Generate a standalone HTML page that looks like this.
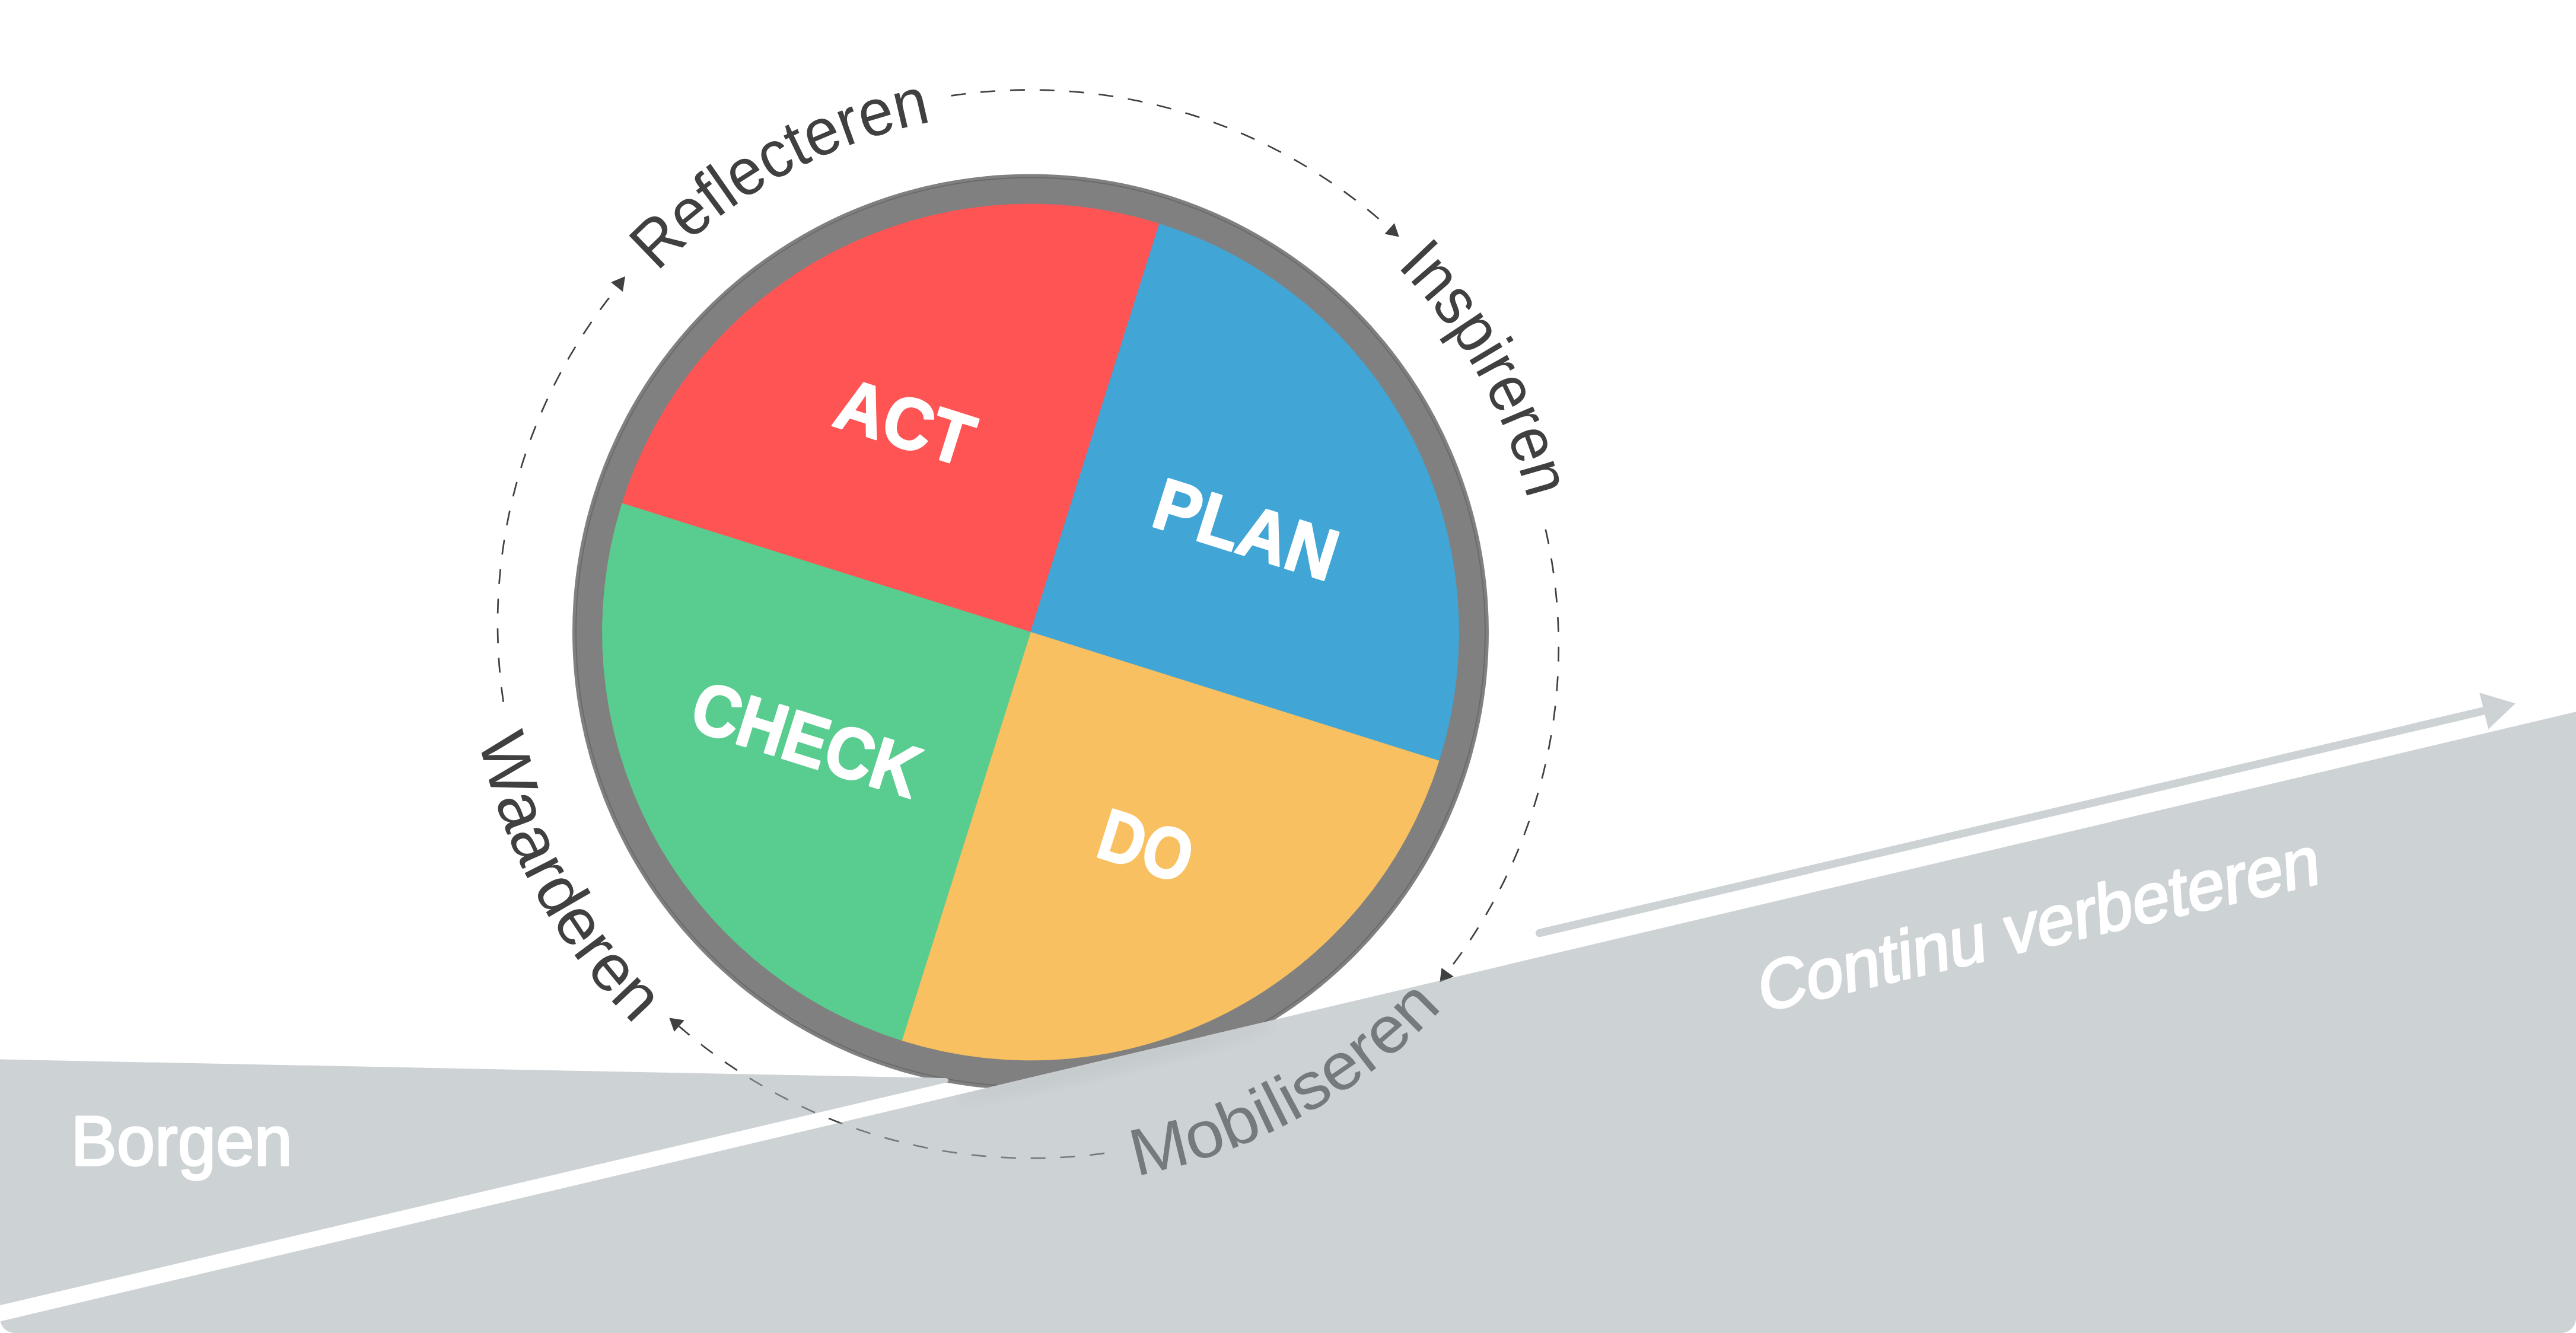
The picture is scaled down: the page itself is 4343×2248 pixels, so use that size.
<!DOCTYPE html><html><head><meta charset="utf-8"><style>html,body{margin:0;padding:0;background:#fff;overflow:hidden}svg{display:block}</style></head><body>
<svg width="4343" height="2248" viewBox="0 0 4343 2248">
<defs>
<clipPath id="pg"><rect x="0" y="-50" width="4343" height="2298" rx="25" ry="25"/></clipPath>
<mask id="cm" maskUnits="userSpaceOnUse" x="0" y="0" width="4343" height="2248"><rect width="4343" height="2248" fill="#fff"/><path d="M0,2228.4 L4343,1200.3 L4343,2248 L0,2248 Z" fill="#000"/><path d="M0,1786.6 L1592,1818.0 Q1599,1818.4 1599,1821.5 Q1599,1824.6 1594,1825.9 L0,2201.2 Z" fill="#000"/></mask>
</defs>
<rect width="4343" height="2248" fill="#fff"/>
<g clip-path="url(#pg)">
<path d="M1603.56,161.41 L1611.38,160.29 L1619.21,159.23 L1627.06,158.24 L1634.90,157.32 L1642.76,156.46 L1650.62,155.68 L1658.50,154.96 L1666.37,154.32 L1674.25,153.74 L1682.14,153.23 L1690.03,152.79 L1697.92,152.42 L1705.82,152.12 L1713.72,151.88 L1721.62,151.72 L1729.53,151.63 L1737.43,151.60 L1745.33,151.64 L1753.23,151.76 L1761.13,151.94 L1769.03,152.19 L1776.93,152.51 L1784.82,152.90 L1792.71,153.36 L1800.60,153.88 L1808.48,154.48 L1816.35,155.14 L1824.22,155.88 L1832.08,156.68 L1839.94,157.55 L1847.79,158.49 L1855.62,159.50 L1863.45,160.57 L1871.27,161.72 L1879.08,162.93 L1886.88,164.21 L1894.67,165.56 L1902.44,166.98 L1910.20,168.47 L1917.95,170.02 L1925.69,171.64 L1933.41,173.33 L1941.11,175.08 L1948.80,176.91 L1956.48,178.80 L1964.13,180.76 L1971.77,182.78 L1979.39,184.87 L1987.00,187.03 L1994.58,189.25 L2002.14,191.54 L2009.69,193.90 L2017.21,196.32 L2024.71,198.81 L2032.19,201.36 L2039.65,203.98 L2047.08,206.66 L2054.49,209.41 L2061.88,212.22 L2069.24,215.10 L2076.57,218.04 L2083.88,221.05 L2091.16,224.12 L2098.42,227.25 L2105.64,230.45 L2112.84,233.71 L2120.01,237.03 L2127.16,240.42 L2134.27,243.86 L2141.35,247.37 L2148.40,250.94 L2155.42,254.58 L2162.40,258.27 L2169.36,262.02 L2176.28,265.84 L2183.17,269.71 L2190.02,273.65 L2196.84,277.65 L2203.62,281.70 L2210.37,285.81 L2217.08,289.99 L2223.76,294.22 L2230.39,298.51 L2236.99,302.86 L2243.55,307.26 L2250.08,311.72 L2256.56,316.24 L2263.00,320.82 L2269.41,325.45 L2275.77,330.14 L2282.09,334.88 L2288.37,339.68 L2294.61,344.53 L2300.80,349.44 L2306.96,354.40 L2313.06,359.41 L2319.13,364.48 L2325.15,369.60 L2331.12,374.78 L2337.05,380.00 L2342.93,385.28" fill="none" stroke="#404040" stroke-width="2.7" stroke-dasharray="25 24.9"/>
<path d="M2605.74,892.69 L2607.44,900.41 L2609.08,908.13 L2610.65,915.88 L2612.15,923.63 L2613.58,931.40 L2614.95,939.18 L2616.24,946.98 L2617.47,954.78 L2618.63,962.59 L2619.72,970.42 L2620.74,978.25 L2621.69,986.09 L2622.57,993.94 L2623.38,1001.80 L2624.13,1009.67 L2624.80,1017.54 L2625.41,1025.41 L2625.94,1033.30 L2626.41,1041.18 L2626.81,1049.07 L2627.13,1056.96 L2627.39,1064.86 L2627.58,1072.76 L2627.70,1080.66 L2627.75,1088.56 L2627.73,1096.46 L2627.64,1104.36 L2627.48,1112.25 L2627.25,1120.15 L2626.95,1128.04 L2626.58,1135.94 L2626.15,1143.82 L2625.64,1151.71 L2625.06,1159.59 L2624.42,1167.46 L2623.70,1175.33 L2622.92,1183.19 L2622.06,1191.04 L2621.14,1198.89 L2620.15,1206.72 L2619.09,1214.55 L2617.96,1222.37 L2616.76,1230.18 L2615.49,1237.98 L2614.16,1245.76 L2612.75,1253.54 L2611.28,1261.30 L2609.74,1269.05 L2608.13,1276.78 L2606.45,1284.50 L2604.71,1292.20 L2602.90,1299.89 L2601.02,1307.57 L2599.07,1315.22 L2597.05,1322.86 L2594.97,1330.48 L2592.82,1338.08 L2590.60,1345.66 L2588.32,1353.23 L2585.97,1360.77 L2583.55,1368.29 L2581.07,1375.79 L2578.52,1383.27 L2575.91,1390.72 L2573.23,1398.15 L2570.49,1405.56 L2567.68,1412.94 L2564.80,1420.30 L2561.86,1427.64 L2558.86,1434.94 L2555.79,1442.22 L2552.66,1449.47 L2549.46,1456.70 L2546.20,1463.89 L2542.88,1471.06 L2539.49,1478.20 L2536.05,1485.31 L2532.53,1492.38 L2528.96,1499.43 L2525.33,1506.44 L2521.63,1513.42 L2517.87,1520.37 L2514.05,1527.29 L2510.17,1534.17 L2506.23,1541.02 L2502.23,1547.83 L2498.17,1554.61 L2494.05,1561.35 L2489.87,1568.05 L2485.64,1574.72 L2481.34,1581.35 L2476.99,1587.94 L2472.57,1594.49 L2468.10,1601.00 L2463.58,1607.48 L2458.99,1613.91 L2454.35,1620.30 L2449.65,1626.66 L2444.90,1632.97 L2440.09,1639.24" fill="none" stroke="#404040" stroke-width="2.7" stroke-dasharray="25 24.9"/>
<path d="M1862.02,1944.83 L1854.14,1945.87 L1846.24,1946.85 L1838.34,1947.75 L1830.43,1948.59 L1822.51,1949.36 L1814.59,1950.05 L1806.66,1950.68 L1798.72,1951.24 L1790.78,1951.73 L1782.84,1952.15 L1774.89,1952.50 L1766.94,1952.77 L1758.99,1952.98 L1751.04,1953.12 L1743.08,1953.19 L1735.13,1953.19 L1727.17,1953.12 L1719.22,1952.98 L1711.27,1952.77 L1703.32,1952.49 L1695.37,1952.14 L1687.43,1951.72 L1679.49,1951.23 L1671.56,1950.67 L1663.63,1950.04 L1655.70,1949.34 L1647.78,1948.57 L1639.87,1947.73 L1631.97,1946.83 L1624.08,1945.85 L1616.19,1944.80 L1608.32,1943.69 L1600.45,1942.50 L1592.60,1941.25 L1584.75,1939.92 L1576.92,1938.53 L1569.10,1937.07 L1561.29,1935.54 L1553.50,1933.94 L1545.72,1932.28 L1537.96,1930.54 L1530.21,1928.74 L1522.48,1926.87 L1514.77,1924.93 L1507.07,1922.92 L1499.39,1920.85 L1491.73,1918.71 L1484.09,1916.50 L1476.47,1914.22 L1468.86,1911.88 L1461.28,1909.47 L1453.72,1906.99 L1446.19,1904.45 L1438.67,1901.84 L1431.18,1899.17 L1423.71,1896.43 L1416.27,1893.62 L1408.85,1890.75 L1401.46,1887.82 L1394.09,1884.81 L1386.75,1881.75 L1379.44,1878.62 L1372.15,1875.42 L1364.90,1872.17 L1357.67,1868.85 L1350.47,1865.46 L1343.30,1862.01 L1336.16,1858.50 L1329.06,1854.93 L1321.98,1851.29 L1314.94,1847.59 L1307.93,1843.83 L1300.95,1840.01 L1294.01,1836.13 L1287.10,1832.18 L1280.23,1828.18 L1273.39,1824.12 L1266.59,1819.99 L1259.82,1815.81 L1253.09,1811.57 L1246.40,1807.26 L1239.75,1802.90 L1233.14,1798.48 L1226.56,1794.01 L1220.03,1789.47 L1213.53,1784.88 L1207.08,1780.23 L1200.66,1775.53 L1194.29,1770.76 L1187.96,1765.95 L1181.67,1761.07 L1175.43,1756.15 L1169.23,1751.16 L1163.07,1746.13 L1156.96,1741.04 L1150.89,1735.89 L1144.87,1730.69" fill="none" stroke="#404040" stroke-width="2.7" stroke-dasharray="25 24.9"/>
<path d="M848.73,1183.80 L847.61,1176.03 L846.56,1168.24 L845.57,1160.45 L844.66,1152.64 L843.81,1144.83 L843.03,1137.02 L842.32,1129.19 L841.68,1121.36 L841.11,1113.53 L840.61,1105.69 L840.17,1097.84 L839.80,1089.99 L839.51,1082.14 L839.28,1074.29 L839.12,1066.44 L839.02,1058.58 L839.00,1050.72 L839.05,1042.87 L839.16,1035.01 L839.34,1027.16 L839.60,1019.30 L839.92,1011.46 L840.30,1003.61 L840.76,995.77 L841.29,987.93 L841.88,980.09 L842.55,972.26 L843.28,964.44 L844.08,956.63 L844.95,948.82 L845.88,941.02 L846.89,933.23 L847.96,925.44 L849.10,917.67 L850.31,909.91 L851.59,902.16 L852.93,894.42 L854.35,886.69 L855.83,878.97 L857.37,871.27 L858.99,863.58 L860.67,855.91 L862.42,848.25 L864.24,840.61 L866.12,832.98 L868.07,825.37 L870.08,817.77 L872.17,810.20 L874.32,802.64 L876.53,795.10 L878.81,787.59 L881.16,780.09 L883.57,772.61 L886.05,765.16 L888.59,757.72 L891.19,750.31 L893.87,742.92 L896.60,735.56 L899.40,728.22 L902.27,720.90 L905.20,713.61 L908.19,706.35 L911.24,699.11 L914.36,691.90 L917.54,684.72 L920.79,677.56 L924.10,670.44 L927.47,663.34 L930.90,656.27 L934.39,649.23 L937.94,642.23 L941.56,635.25 L945.24,628.31 L948.97,621.40 L952.77,614.52 L956.63,607.68 L960.54,600.87 L964.52,594.09 L968.56,587.35 L972.65,580.65 L976.80,573.98 L981.02,567.34 L985.28,560.75 L989.61,554.19 L993.99,547.67 L998.43,541.19 L1002.93,534.75 L1007.49,528.35 L1012.09,521.98 L1016.76,515.66 L1021.48,509.38 L1026.25,503.14 L1031.08,496.95 L1035.97,490.79 L1040.90,484.68" fill="none" stroke="#404040" stroke-width="2.7" stroke-dasharray="25 24.9"/>
<polygon points="1054.0,466.0 1030.0,476.0 1050.0,492.0" fill="#404040"/>
<polygon points="2358.8,399.5 2350.9,376.3 2334.4,394.6" fill="#404040"/>
<polygon points="2427.4,1656.6 2430.4,1632.3 2450.9,1646.9" fill="#404040"/>
<polygon points="1128.4,1716.4 1153.9,1720.5 1136.6,1740.0" fill="#404040"/>
<g font-family="Liberation Sans, sans-serif" font-weight="normal" font-size="112.00" fill="#404040"><text transform="translate(1135.00 432.48) rotate(-43.984) scale(0.9363 1)" x="-40.44" y="0">R</text><text transform="translate(1184.98 387.85) rotate(-39.549) scale(0.9363 1)" x="-31.14" y="0">e</text><text transform="translate(1219.39 360.87) rotate(-36.656) scale(0.9363 1)" x="-15.56" y="0">f</text><text transform="translate(1240.65 345.54) rotate(-34.922) scale(0.9363 1)" x="-12.44" y="0">l</text><text transform="translate(1274.65 322.97) rotate(-32.222) scale(0.9363 1)" x="-31.14" y="0">e</text><text transform="translate(1322.41 294.96) rotate(-28.558) scale(0.9363 1)" x="-28.00" y="0">c</text><text transform="translate(1358.68 276.32) rotate(-25.860) scale(0.9363 1)" x="-15.56" y="0">t</text><text transform="translate(1398.49 258.24) rotate(-22.966) scale(0.9363 1)" x="-31.14" y="0">e</text><text transform="translate(1441.89 241.22) rotate(-19.882) scale(0.9363 1)" x="-18.65" y="0">r</text><text transform="translate(1486.14 226.55) rotate(-16.797) scale(0.9363 1)" x="-31.14" y="0">e</text><text transform="translate(1542.49 211.59) rotate(-12.939) scale(0.9363 1)" x="-31.14" y="0">n</text></g>
<g font-family="Liberation Sans, sans-serif" font-weight="normal" font-size="112.00" fill="#404040"><text transform="translate(2364.84 459.77) rotate(46.526) scale(0.9146 1)" x="-15.56" y="0">I</text><text transform="translate(2393.46 491.48) rotate(49.352) scale(0.9146 1)" x="-31.14" y="0">n</text><text transform="translate(2427.39 533.59) rotate(52.931) scale(0.9146 1)" x="-28.00" y="0">s</text><text transform="translate(2458.62 577.74) rotate(56.509) scale(0.9146 1)" x="-31.14" y="0">p</text><text transform="translate(2479.85 611.48) rotate(59.147) scale(0.9146 1)" x="-12.44" y="0">i</text><text transform="translate(2494.03 636.12) rotate(61.028) scale(0.9146 1)" x="-18.65" y="0">r</text><text transform="translate(2515.03 676.53) rotate(64.041) scale(0.9146 1)" x="-31.14" y="0">e</text><text transform="translate(2533.87 717.97) rotate(67.054) scale(0.9146 1)" x="-18.65" y="0">r</text><text transform="translate(2550.52 760.36) rotate(70.067) scale(0.9146 1)" x="-31.14" y="0">e</text><text transform="translate(2568.16 814.51) rotate(73.836) scale(0.9146 1)" x="-31.14" y="0">n</text></g>
<g font-family="Liberation Sans, sans-serif" font-weight="normal" font-size="112.00" fill="#404040"><text transform="translate(1962.97 1972.50) rotate(-13.609) scale(1.0453 1)" x="-46.65" y="0">M</text><text transform="translate(2041.09 1950.01) rotate(-18.508) scale(1.0453 1)" x="-31.14" y="0">o</text><text transform="translate(2102.08 1927.25) rotate(-22.431) scale(1.0453 1)" x="-31.14" y="0">b</text><text transform="translate(2143.76 1908.86) rotate(-25.176) scale(1.0453 1)" x="-12.44" y="0">i</text><text transform="translate(2167.14 1897.47) rotate(-26.743) scale(1.0453 1)" x="-12.44" y="0">l</text><text transform="translate(2190.21 1885.45) rotate(-28.310) scale(1.0453 1)" x="-12.44" y="0">i</text><text transform="translate(2226.97 1864.58) rotate(-30.857) scale(1.0453 1)" x="-28.00" y="0">s</text><text transform="translate(2278.97 1831.17) rotate(-34.582) scale(1.0453 1)" x="-31.14" y="0">e</text><text transform="translate(2321.00 1800.47) rotate(-37.718) scale(1.0453 1)" x="-18.65" y="0">r</text><text transform="translate(2361.28 1767.52) rotate(-40.854) scale(1.0453 1)" x="-31.14" y="0">e</text><text transform="translate(2409.03 1723.27) rotate(-44.777) scale(1.0453 1)" x="-31.14" y="0">n</text></g>
<g font-family="Liberation Sans, sans-serif" font-weight="normal" font-size="112.00" fill="#404040"><text transform="translate(819.53 1298.49) rotate(74.962) scale(1.0031 1)" x="-52.86" y="0">W</text><text transform="translate(844.98 1378.79) rotate(69.880) scale(1.0031 1)" x="-31.14" y="0">a</text><text transform="translate(868.38 1436.71) rotate(66.111) scale(1.0031 1)" x="-31.14" y="0">a</text><text transform="translate(889.80 1481.83) rotate(63.099) scale(1.0031 1)" x="-18.65" y="0">r</text><text transform="translate(913.56 1525.76) rotate(60.086) scale(1.0031 1)" x="-31.14" y="0">d</text><text transform="translate(946.48 1578.86) rotate(56.318) scale(1.0031 1)" x="-31.14" y="0">e</text><text transform="translate(975.26 1619.67) rotate(53.305) scale(1.0031 1)" x="-18.65" y="0">r</text><text transform="translate(1006.15 1658.92) rotate(50.293) scale(1.0031 1)" x="-31.14" y="0">e</text><text transform="translate(1047.62 1705.65) rotate(46.524) scale(1.0031 1)" x="-31.14" y="0">n</text></g>
<path d="M0,2228.4 L4343,1200.3 L4343,2248 L0,2248 Z" fill="rgba(162,172,177,0.54)"/>
<path d="M0,1786.6 L1592,1818.0 Q1599,1818.4 1599,1821.5 Q1599,1824.6 1594,1825.9 L0,2201.2 Z" fill="rgba(162,172,177,0.54)" stroke="none" stroke-width="6" stroke-linejoin="round"/>
<defs><filter id="bl" x="-50%" y="-50%" width="200%" height="200%"><feGaussianBlur stdDeviation="12"/></filter><clipPath id="gc"><path d="M0,2228.4 L4343,1200.3 L4343,2248 L0,2248 Z"/></clipPath></defs>
<g clip-path="url(#gc)"><ellipse cx="1880" cy="1790" rx="280" ry="14" transform="rotate(-13.3 1880 1790)" fill="#000" opacity="0.045" filter="url(#bl)"/></g>
<g mask="url(#cm)">
<circle cx="1737.5" cy="1066.0" r="772.5" fill="#808080"/>
<circle cx="1737.5" cy="1066.0" r="766.5" fill="none" stroke="#6a6a6a" stroke-width="2"/>
<path d="M1737.50,1066.00 L1048.92,848.89 A722.0,722.0 0 0 1 1954.61,377.42 Z" fill="#ff5454" stroke="#ff5454" stroke-width="0.8"/>
<path d="M1737.50,1066.00 L1954.61,377.42 A722.0,722.0 0 0 1 2426.08,1283.11 Z" fill="#41a5d6" stroke="#41a5d6" stroke-width="0.8"/>
<path d="M1737.50,1066.00 L2426.08,1283.11 A722.0,722.0 0 0 1 1520.39,1754.58 Z" fill="#f8c060" stroke="#f8c060" stroke-width="0.8"/>
<path d="M1737.50,1066.00 L1520.39,1754.58 A722.0,722.0 0 0 1 1048.92,848.89 Z" fill="#59cd8f" stroke="#59cd8f" stroke-width="0.8"/>
<text font-family="Liberation Sans, sans-serif" font-weight="bold" font-size="122.50" fill="#fff" transform="translate(1403.14 717.65) rotate(17.500) skewX(0.000) scale(0.9402 1)" x="-3.05" y="0" stroke="#fff" stroke-width="3" stroke-linejoin="round">ACT</text>
<text font-family="Liberation Sans, sans-serif" font-weight="bold" font-size="122.50" fill="#fff" transform="translate(1944.30 887.86) rotate(17.500) skewX(0.000) scale(0.9507 1)" x="-8.19" y="0" stroke="#fff" stroke-width="3" stroke-linejoin="round">PLAN</text>
<text font-family="Liberation Sans, sans-serif" font-weight="bold" font-size="122.50" fill="#fff" transform="translate(1162.26 1228.88) rotate(17.500) skewX(0.000) scale(0.9094 1)" x="-5.02" y="0" stroke="#fff" stroke-width="3" stroke-linejoin="round">CHECK</text>
<text font-family="Liberation Sans, sans-serif" font-weight="bold" font-size="122.50" fill="#fff" transform="translate(1850.68 1445.20) rotate(17.500) skewX(0.000) scale(0.8626 1)" x="-8.19" y="0" stroke="#fff" stroke-width="3" stroke-linejoin="round">DO</text>
</g>
<line x1="2595.5" y1="1573.5" x2="4190" y2="1198.3" stroke="#cdd2d5" stroke-width="13.3" stroke-linecap="round"/>
<polygon points="4240.9,1186.2 4180.2,1168.2 4195.3,1229.8" fill="#cdd2d5"/>
<text font-family="Liberation Sans, sans-serif" font-weight="normal" font-size="119.00" fill="#fff" transform="translate(128.90 1964.80) rotate(0.000) skewX(0.000) scale(0.9737 1)" x="-9.76" y="0" stroke="#fff" stroke-width="3.4" stroke-linejoin="round">Borgen</text>
<text font-family="Liberation Sans, sans-serif" font-weight="normal" font-size="116.00" fill="#fff" transform="translate(2973.47 1705.96) rotate(-13.000) skewX(-9.500) scale(0.9829 1)" x="-5.89" y="0" stroke="#fff" stroke-width="3.4" stroke-linejoin="round">Continu verbeteren</text>
</g>
</svg></body></html>
